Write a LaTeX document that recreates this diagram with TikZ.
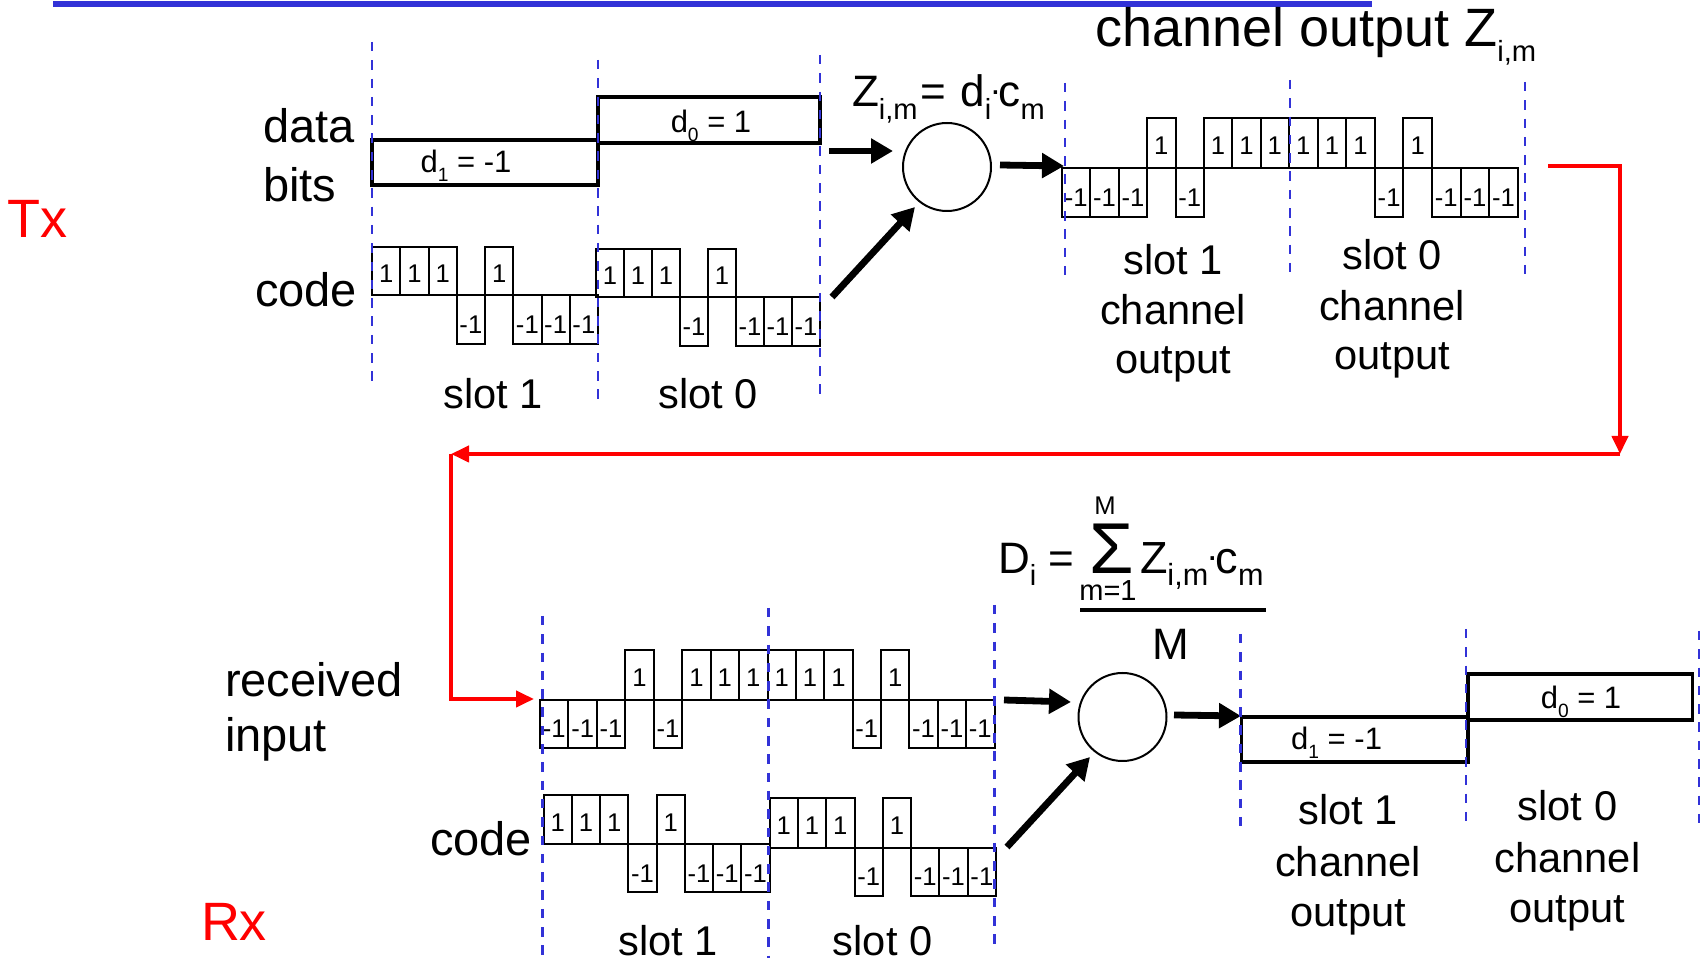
\documentclass[tikz,border=0pt]{standalone}
\usepackage{graphicx}
\usepackage{fontspec}
\setmainfont{Liberation Sans}
\usetikzlibrary{arrows.meta}
\definecolor{dashblue}{RGB}{50,50,215}
\newcommand{\fsz}[1]{\fontsize{#1}{#1}\selectfont}
\newcommand{\lsub}[2][0.62]{\raisebox{-0.28em}{\scalebox{#1}{#2}}}
\newcommand{\rdot}{\kern-0.02em\raisebox{0.28em}{\scalebox{0.8}{.}}\kern-0.04em}
\tikzset{
  lbl/.style={inner sep=0pt, outer sep=0pt, font=\fsz{23.5}},
  slotlbl/.style={inner sep=0pt, outer sep=0pt, font=\fsz{20.8}, anchor=base},
  chipbox/.style={draw=black, line width=1pt},
  chiplbl/.style={inner sep=0pt, outer sep=0pt, font=\fsz{12.8}},
  databox/.style={draw=black, line width=1.9pt},
  dlbl/.style={inner sep=0pt, outer sep=0pt, font=\fsz{15.5}, anchor=base},
  slotline/.style={draw=dashblue, line width=1.25pt, dash pattern=on 4.75pt off 4.4pt},
  bigarrow/.style={line width=3.4pt, -{Triangle[length=11pt,width=12pt]}},
  redarrow/.style={draw=red, line width=2pt, -{Triangle[length=9pt,width=8pt]}},
  mult/.style={circle, draw, line width=1pt, minimum size=44pt, inner sep=0pt},
  txrx/.style={inner sep=0pt, outer sep=0pt, anchor=base west, font=\fsz{27}, text=red},
}
% #1 name prefix, #2 x0, #3 chip width, #4 ytop, #5 yzero, #6 ybottom, #7 values
\newcommand{\drawchips}[7]{%
  \foreach \v [count=\i from 0] in {#7} {
    \pgfmathsetmacro\xa{#2+\i*#3}
    \pgfmathsetmacro\xb{#2+(\i+1)*#3}
    \pgfmathsetmacro\xm{#2+(\i+0.5)*#3}
    \ifnum\v>0
      \draw[chipbox] (\xa,#5) rectangle (\xb,#4);
      \pgfmathsetmacro\ym{(#4+#5)/2+3}
      \node[chiplbl] (#1\i) at (\xm,\ym) {1};
    \else
      \draw[chipbox] (\xa,#5) rectangle (\xb,#6);
      \pgfmathsetmacro\ym{(#5+#6)/2+5}
      \node[chiplbl] (#1\i) at (\xm,\ym) {-1};
    \fi
  }%
}
\begin{document}
\begin{tikzpicture}[x=0.5pt,y=-0.5pt]
\fill[white] (0,0) rectangle (1705,961);
\useasboundingbox (0,0) rectangle (1705,961);

% top blue line and title
\draw[dashblue, line width=2.7pt] (53,4.2) -- (1372,4.2);
\node[inner sep=0pt, outer sep=0pt, anchor=base west, font=\fsz{27}] (title) at (1095,46.7) {channel output Z\lsub[0.54]{i,m}};

% ---------- Tx ----------
\node[lbl, anchor=base west] (data) at (263,143) {data};
\node[lbl, anchor=base west] (bits) at (263,202) {bits};
\node[lbl, anchor=base west] (codeTx) at (255,307) {code};
\node[txrx] (Tx) at (8,238) {Tx};

\draw[databox] (372,140) rectangle (598,185);
\draw[databox] (598,97) rectangle (820,143);
\node[dlbl] (d1Tx) at (466,173) {d\lsub{1} = -1};
\node[dlbl] (d0Tx) at (711,133) {d\lsub{0} = 1};

\drawchips{cTa}{372}{28.25}{247}{295}{344}{1,1,1,-1,1,-1,-1,-1}
\drawchips{cTb}{596}{28}{249}{297}{346}{1,1,1,-1,1,-1,-1,-1}

\draw[slotline] (372,42) -- (372,382);
\draw[slotline] (598,60) -- (598,400);
\draw[slotline] (820,55) -- (820,397);

\node[slotlbl] (s1Tx) at (493,409) {slot 1};
\node[slotlbl] (s0Tx) at (708,409) {slot 0};

\node[inner sep=0pt, outer sep=0pt, anchor=base west, font=\fsz{22}] (zform) at (852,107) {Z\lsub[0.66]{i,m}\kern1.5pt= \kern1pt d\lsub[0.66]{i}\rdot c\lsub[0.66]{m}};

\node[mult] (mulTx) at (947,167) {};

\coordinate (aT1s) at (829,151); \coordinate (aT1e) at (893,151);
\coordinate (aT2s) at (832,297); \coordinate (aT2e) at (915,207);
\coordinate (aT3s) at (1000,165); \coordinate (aT3e) at (1064,166);
\draw[bigarrow] (aT1s) -- (aT1e);
\draw[bigarrow] (aT2s) -- (aT2e);
\draw[bigarrow] (aT3s) -- (aT3e);

\drawchips{oTa}{1062}{28.375}{118}{168}{217}{-1,-1,-1,1,-1,1,1,1}
\drawchips{oTb}{1289}{28.6}{118}{168}{217}{1,1,1,-1,1,-1,-1,-1}
\draw[slotline] (1065,83) -- (1065,280);
\draw[slotline] (1290,80) -- (1290,277);
\draw[slotline] (1525,82) -- (1525,278);

\node[slotlbl] (oTs1) at (1173,275) {slot 1};
\node[slotlbl] (oTc1) at (1173,325) {channel};
\node[slotlbl] (oTo1) at (1173,374) {output};
\node[slotlbl] (oTs0) at (1392,270) {slot 0};
\node[slotlbl] (oTc0) at (1392,321) {channel};
\node[slotlbl] (oTo0) at (1392,370) {output};

% ---------- red path ----------
\coordinate (r0) at (1548,166); \coordinate (r1) at (1620,166);
\coordinate (r2) at (1620,454); \coordinate (r3) at (451,454);
\coordinate (r4) at (451,699); \coordinate (r5) at (534,699);
\draw[redarrow] (r0) -- (r1) -- (r2);
\draw[redarrow] (r2) -- (r3);
\draw[redarrow] (r3) -- (r4) -- (r5);

% ---------- Rx ----------
\node[lbl, anchor=base west] (recv) at (225,697) {received};
\node[lbl, anchor=base west] (inp) at (225,752) {input};
\node[lbl, anchor=base west] (codeRx) at (430,856) {code};
\node[txrx] (Rx) at (201,941) {Rx};

\drawchips{rRa}{540}{28.4375}{650}{700}{748}{-1,-1,-1,1,-1,1,1,1}
\drawchips{rRb}{767.5}{28.375}{650}{700}{748}{1,1,1,-1,1,-1,-1,-1}
\drawchips{cRa}{543.6}{28.25}{795}{844.5}{892}{1,1,1,-1,1,-1,-1,-1}
\drawchips{cRb}{769.6}{28.3}{798}{848}{896}{1,1,1,-1,1,-1,-1,-1}

\draw[slotline] (542.5,616) -- (542.5,958);
\draw[slotline] (768.6,608) -- (768.6,958);
\draw[slotline] (994.5,605) -- (994.5,946);

\node[slotlbl] (s1Rx) at (668,955.5) {slot 1};
\node[slotlbl] (s0Rx) at (882.6,955.5) {slot 0};

% formula
\node[inner sep=0pt, outer sep=0pt, anchor=base west, font=\fsz{22}] (Dform) at (998,573.3) {D\lsub[0.66]{i} =};
\node[inner sep=0pt, outer sep=0pt, anchor=base, font=\fsz{36}] (sumsym) at (1111.5,573.3) {Σ};
\node[inner sep=0pt, outer sep=0pt, anchor=base, font=\fsz{12.8}] (Mup) at (1105,515) {M};
\node[inner sep=0pt, outer sep=0pt, anchor=base, font=\fsz{14.5}] (mlow) at (1108,601) {m=1};
\node[inner sep=0pt, outer sep=0pt, anchor=base west, font=\fsz{22.5}] (Zc) at (1140,573.3) {Z\lsub[0.68]{i,m}\rdot c\lsub[0.68]{m}};
\draw[line width=1.65pt] (1080,610) -- (1266,610);
\node[inner sep=0pt, outer sep=0pt, anchor=base, font=\fsz{22}] (Mden) at (1170.8,660) {M};

\node[mult] (mulRx) at (1122.5,717) {};

\coordinate (aR1s) at (1004,700); \coordinate (aR1e) at (1071,702);
\coordinate (aR2s) at (1007,847); \coordinate (aR2e) at (1090,757);
\coordinate (aR3s) at (1174,715); \coordinate (aR3e) at (1241,716);
\draw[bigarrow] (aR1s) -- (aR1e);
\draw[bigarrow] (aR2s) -- (aR2e);
\draw[bigarrow] (aR3s) -- (aR3e);

\draw[databox] (1241.5,717) rectangle (1467.8,762);
\draw[databox] (1467.8,674) rectangle (1692.4,720);
\node[dlbl] (d1Rx) at (1336.6,750) {d\lsub{1} = -1};
\node[dlbl] (d0Rx) at (1581,709) {d\lsub{0} = 1};

\draw[slotline] (1240.4,634) -- (1240.4,830);
\draw[slotline] (1466,629) -- (1466,826);
\draw[slotline] (1699,631) -- (1699,828);

\node[slotlbl] (oRs1) at (1348,825) {slot 1};
\node[slotlbl] (oRc1) at (1348,877) {channel};
\node[slotlbl] (oRo1) at (1348,927) {output};
\node[slotlbl] (oRs0) at (1567.5,821) {slot 0};
\node[slotlbl] (oRc0) at (1567.5,873) {channel};
\node[slotlbl] (oRo0) at (1567.5,923) {output};
\end{tikzpicture}
\end{document}
